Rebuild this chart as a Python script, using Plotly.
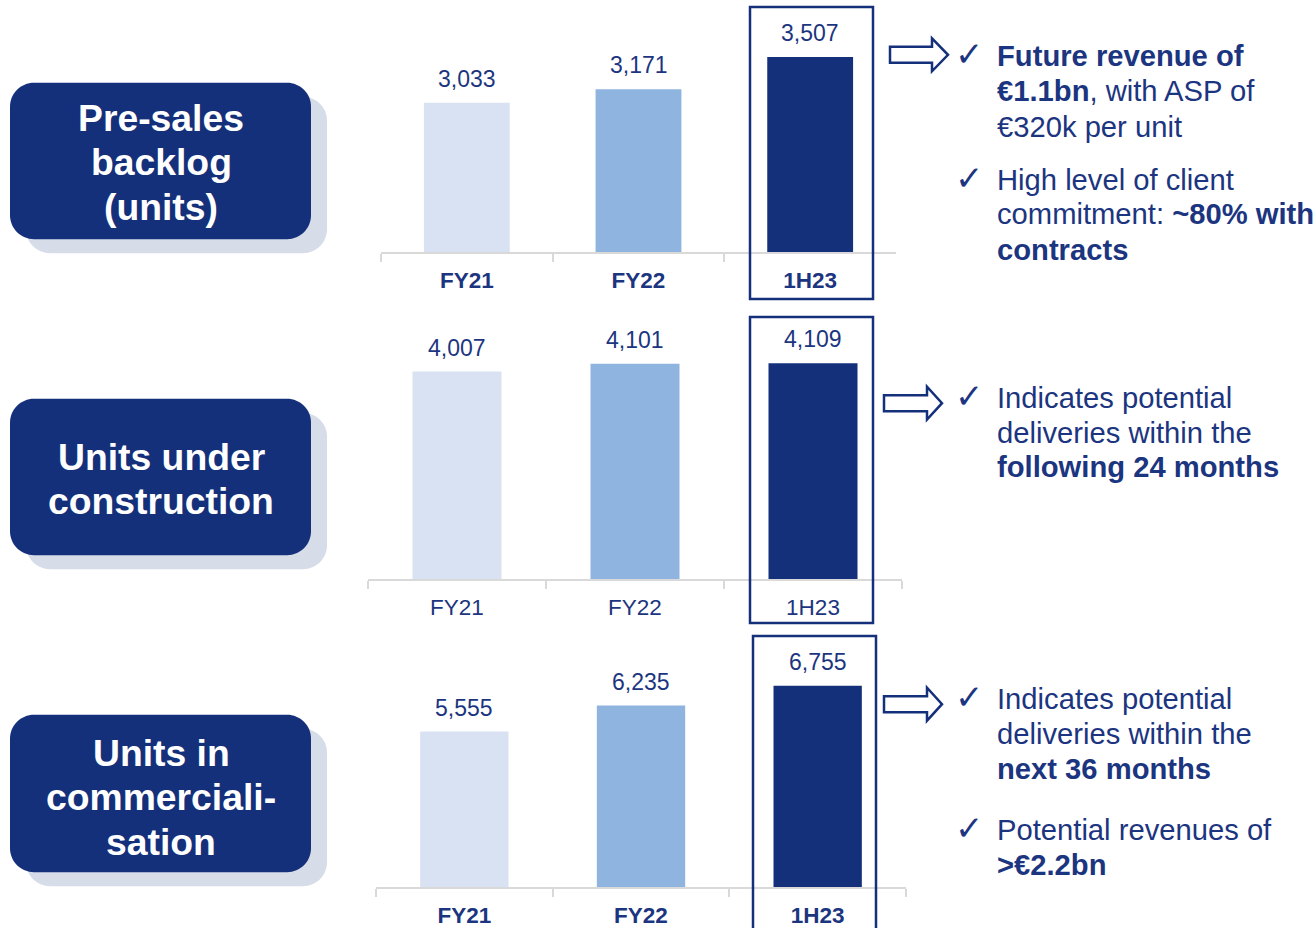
import plotly.graph_objects as go

W, H = 1314, 928
NAVY = "#15307B"
TEXT = "#1C3580"
GRID = "#D9D9D9"
SHADOW = "#D6DCE8"
FONT = "Liberation Sans, Arial, sans-serif"

# ---------------- data ----------------
categories = ["FY21", "FY22", "1H23"]
presales_backlog = [3033, 3171, 3507]
units_under_construction = [4007, 4101, 4109]
units_in_commercialisation = [5555, 6235, 6755]
bar_colors = ["#D9E2F3", "#8FB4E0", "#15307B"]

panel_titles = [
    ["Pre-sales", "backlog", "(units)"],
    ["Units under", "construction"],
    ["Units in", "commerciali-", "sation"],
]
bold_ticks = [True, False, True]

comment_blocks = [
    ["<b>Future revenue of</b>", "<b>€1.1bn</b>, with ASP of", "€320k per unit"],
    ["High level of client", "commitment: <b>~80% with</b>", "<b>contracts</b>"],
    ["Indicates potential", "deliveries within the", "<b>following 24 months</b>"],
    ["Indicates potential", "deliveries within the", "<b>next 36 months</b>"],
    ["Potential revenues of", "<b>>€2.2bn</b>"],
]

# ---------------- layout helpers (pixel -> paper) ----------------
def X(x):
    return x / W

def Y(y):
    return 1 - y / H

series = [presales_backlog, units_under_construction, units_in_commercialisation]
# panel geometry: x0, x1, axis y, top y, y-range
panels = [
    dict(x0=381, x1=896, yb=253, yt=40, rng=[1480, 3685]),
    dict(x0=368, x1=902, yb=581, yt=330, rng=[1480, 4526]),
    dict(x0=376, x1=906, yb=890, yt=650, rng=[1480, 7746]),
]

fig = go.Figure()
layout_axes = {}
annotations = []
shapes = []

for i, (vals, p) in enumerate(zip(series, panels)):
    sfx = "" if i == 0 else str(i + 1)
    fig.add_trace(go.Bar(
        x=categories, y=vals, marker=dict(color=bar_colors, line=dict(width=0)),
        xaxis="x" + sfx, yaxis="y" + sfx, showlegend=False, hoverinfo="x+y",
    ))
    ticktext = [f"<b>{c}</b>" if bold_ticks[i] else c for c in categories]
    layout_axes["xaxis" + sfx] = dict(
        domain=[X(p["x0"]), X(p["x1"])], anchor="y" + sfx, type="category",
        showline=True, linecolor=GRID, linewidth=2, ticks="outside",
        tickson="boundaries", ticklen=8, tickwidth=2, tickcolor=GRID,
        tickvals=categories, ticktext=ticktext, ticklabelstandoff=7,
        tickfont=dict(size=22.5, color=TEXT, family=FONT),
        showgrid=False, zeroline=False, fixedrange=True,
    )
    layout_axes["yaxis" + sfx] = dict(
        domain=[Y(p["yb"]), Y(p["yt"])], anchor="x" + sfx, range=p["rng"],
        visible=False, showgrid=False, zeroline=False, fixedrange=True,
    )
    for c, v in zip(categories, vals):
        annotations.append(dict(
            x=c, y=v, xref="x" + sfx, yref="y" + sfx, text=f"{v:,}",
            showarrow=False, yanchor="bottom", yshift=9,
            font=dict(size=23, color=TEXT, family=FONT),
        ))

# ---------------- left title boxes ----------------
def rrect(x0, y0, x1, y1, r):
    k = 0.5523 * r
    pts = [
        f"M {X(x0 + r)},{Y(y0)}",
        f"L {X(x1 - r)},{Y(y0)}",
        f"C {X(x1 - r + k)},{Y(y0)} {X(x1)},{Y(y0 + r - k)} {X(x1)},{Y(y0 + r)}",
        f"L {X(x1)},{Y(y1 - r)}",
        f"C {X(x1)},{Y(y1 - r + k)} {X(x1 - r + k)},{Y(y1)} {X(x1 - r)},{Y(y1)}",
        f"L {X(x0 + r)},{Y(y1)}",
        f"C {X(x0 + r - k)},{Y(y1)} {X(x0)},{Y(y1 - r + k)} {X(x0)},{Y(y1 - r)}",
        f"L {X(x0)},{Y(y0 + r)}",
        f"C {X(x0)},{Y(y0 + r - k)} {X(x0 + r - k)},{Y(y0)} {X(x0 + r)},{Y(y0)}",
        "Z",
    ]
    return " ".join(pts)

boxes = [(10, 83, 311, 240), (10, 400, 311, 557), (10, 717, 311, 875)]
title_line_y = [[118.5, 162.5, 207.5], [458, 503], [755, 800, 845]]
for (x0, y0, x1, y1), lines, ys in zip(boxes, panel_titles, title_line_y):
    shapes.append(dict(type="path", xref="paper", yref="paper",
                       path=rrect(x0 + 16, y0 + 14, x1 + 16, y1 + 14, 24),
                       fillcolor=SHADOW, line=dict(width=0), layer="below"))
    shapes.append(dict(type="path", xref="paper", yref="paper",
                       path=rrect(x0, y0, x1, y1, 24),
                       fillcolor=NAVY, line=dict(width=0), layer="below"))
    for t, yy in zip(lines, ys):
        annotations.append(dict(
            x=X(161), y=Y(yy), xref="paper", yref="paper", text=f"<b>{t}</b>",
            showarrow=False, xanchor="center", yanchor="middle",
            font=dict(size=37.3, color="white", family=FONT),
        ))

# ---------------- highlight frames around 1H23 ----------------
frames = [(750, 7, 873, 300), (750, 318, 873, 625), (753, 638, 876, 940)]
for x0, y0, x1, y1 in frames:
    shapes.append(dict(type="rect", xref="paper", yref="paper",
                       x0=X(x0), x1=X(x1), y0=Y(y1), y1=Y(y0),
                       line=dict(color=NAVY, width=2.5), fillcolor="rgba(0,0,0,0)",
                       layer="above"))

# ---------------- hollow arrows ----------------
def arrow(xl, xb, xt, yc, sh, hh):
    pts = [(xl, yc - sh), (xb, yc - sh), (xb, yc - hh), (xt, yc),
           (xb, yc + hh), (xb, yc + sh), (xl, yc + sh)]
    return "M " + " L ".join(f"{X(a)},{Y(b)}" for a, b in pts) + " Z"

for xl, xb, xt, yc in [(890, 932, 948, 55), (884, 927, 942, 404.5), (884, 927, 942, 706.5)]:
    shapes.append(dict(type="path", xref="paper", yref="paper",
                       path=arrow(xl, xb, xt, yc, 8, 16.5),
                       fillcolor="white", line=dict(color=NAVY, width=2.5)))

# ---------------- right-hand comments ----------------
block_line_y = [[56, 91, 127], [181, 215, 251], [399, 434, 469], [701, 736, 771], [833, 868]]
for lines, ys in zip(comment_blocks, block_line_y):
    annotations.append(dict(
        x=X(969), y=Y(ys[0] - 2), xref="paper", yref="paper", text="✓",
        showarrow=False, xanchor="center", yanchor="middle",
        font=dict(size=34, color=TEXT, family="DejaVu Sans"),
    ))
    for t, yy in zip(lines, ys):
        annotations.append(dict(
            x=X(995), y=Y(yy), xref="paper", yref="paper", text=t,
            showarrow=False, xanchor="left", yanchor="middle",
            font=dict(size=29.2, color=TEXT, family=FONT),
        ))

fig.update_layout(
    width=W, height=H, margin=dict(l=0, r=0, t=0, b=0),
    paper_bgcolor="white", plot_bgcolor="white",
    bargap=0.5, showlegend=False,
    font=dict(family=FONT, color=TEXT),
    annotations=annotations, shapes=shapes,
    **layout_axes,
)

fig.write_html("out.html", config={"displayModeBar": False})
